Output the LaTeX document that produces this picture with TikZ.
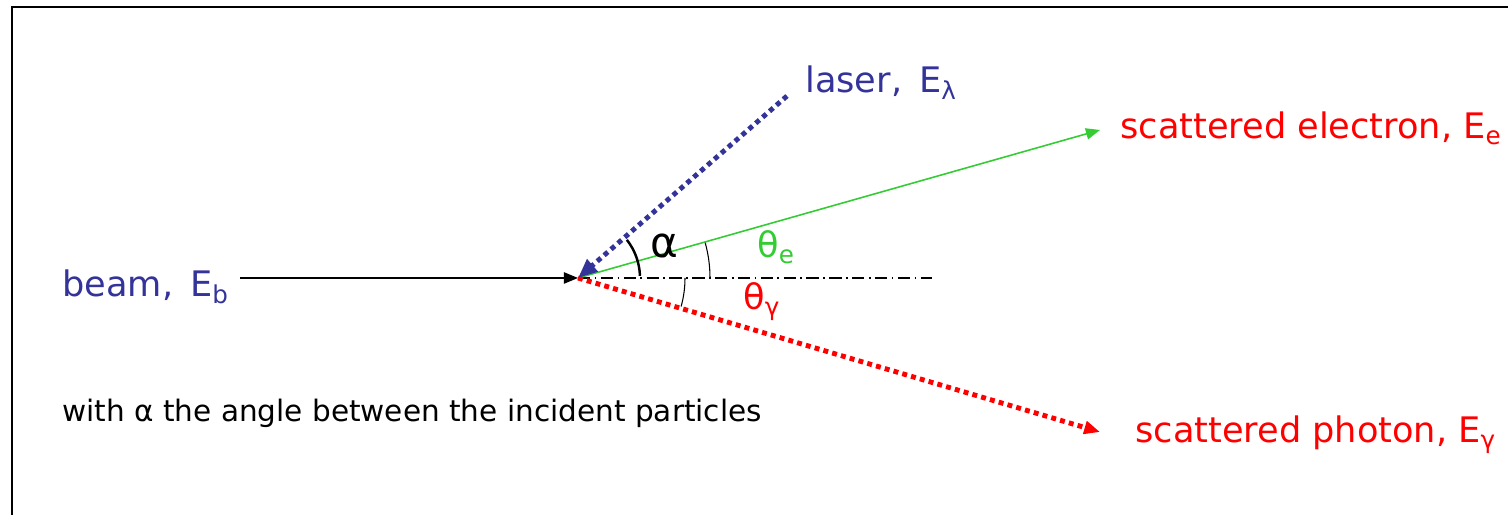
\documentclass[tikz,border=0pt]{standalone}
\usepackage{fontspec}
\setmainfont{DejaVu Sans}
\usetikzlibrary{arrows.meta}
\definecolor{laserblue}{RGB}{51,51,153}
\definecolor{elgreen}{RGB}{51,204,51}
\tikzset{
  lbl/.style={anchor=base west, inner sep=0pt, font=\fontsize{20}{23}\selectfont},
  dotline/.style={line width=2.8pt, dash pattern=on 2.8pt off 2.4pt},
  tip/.style={-{Triangle[length=#1, width=0.8*#1]}}
}
\begin{document}
\begin{tikzpicture}[x=0.2mm, y=0.2mm]
  \useasboundingbox (0,0) rectangle (1508,515);
  \draw[line width=1.6pt] (12,-30) rectangle (1540,508);
  \coordinate (O) at (578,237);
  \coordinate (B) at (240,237);
  \coordinate (L) at (787,419);
  \coordinate (Ee) at (1100,385);
  \coordinate (Eg) at (1100,83);
  \coordinate (X) at (932,237);
  \draw[line width=0.6pt, dash pattern=on 7pt off 2.5pt on 1pt off 2.5pt] (O) -- (X);
  \draw[line width=0.9pt, tip=8pt] (B) -- (O);
  \draw[elgreen, line width=0.9pt, tip=8pt] (O) -- (Ee);
  \draw[red, dotline, tip=9pt] (O) -- (Eg);
  \draw[laserblue, dotline, tip=11pt] (L) -- (O);
  \draw[line width=1.4pt] (O) ++(2:62) arc[start angle=2, end angle=38, radius=62];
  \draw[line width=0.6pt] (O) ++(0:132) arc[start angle=0, end angle=15.5, radius=132];
  \draw[line width=0.6pt] (O) ++(0:107) arc[start angle=0, end angle=-15.5, radius=107];
  \node[lbl, laserblue] (beam) at (62,218) {beam,\, E\textsubscript{b}};
  \node[lbl, laserblue] (laser) at (805,422) {laser,\, E\textsubscript{λ}};
  \node[lbl, red] (elec) at (1120,376) {scattered electron, E\textsubscript{e}};
  \node[lbl, red] (phot) at (1135,72) {scattered photon, E\textsubscript{γ}};
  \node[lbl, font=\fontsize{24}{26}\selectfont] (alpha) at (650,257) {α};
  \node[lbl, elgreen] (the) at (757,257) {θ\textsubscript{e}};
  \node[lbl, red] (thg) at (743,205) {θ\textsubscript{γ}};
  \node[lbl, font=\fontsize{16.8}{20}\selectfont] (note) at (62,93) {with α the angle between the incident particles};
\end{tikzpicture}
\end{document}
